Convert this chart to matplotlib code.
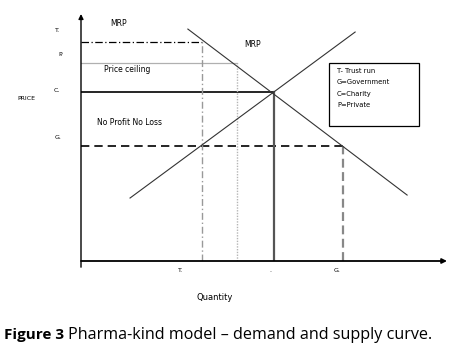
import numpy as np
import matplotlib
matplotlib.use("Agg")
from matplotlib import pyplot as plt

# price levels (0-100 scale) and the quantities that go with them
price_names = ["T.", "P.", "C.", "G."]
price_levels = [88.7, 80.2, 68.4, 46.6]
qty_names = ["T.", "", ".", "G."]
qty_levels = [33.0, 42.6, 52.7, 71.6]

# MRP (demand) and supply lines, end points
demand_q = [29.2, 89.1]
demand_p = [93.9, 26.7]
supply_q = [13.4, 74.9]
supply_p = [25.5, 92.7]

legend_lines = ["T- Trust run", "G=Government", "C=Charity", "P=Private"]

W, H = 459, 358
fig = plt.figure(figsize=(W / 100, H / 100), dpi=100)
fig.patch.set_facecolor("white")

# axes box: origin at pixel (81, 261), top at y=14, right end at x=447
x0, y0, x1, y1 = 81, 261, 447, 14
ax = fig.add_axes([x0 / W, (H - y0) / H, (x1 - x0) / W, (y0 - y1) / H])
ax.set_xlim(0, 100)
ax.set_ylim(0, 100)
ax.patch.set_alpha(0)
for s in ax.spines.values():
    s.set_visible(False)
ax.set_xticks([])
ax.set_yticks([])

# axes with arrows
ax.annotate("", xy=(0, 100), xytext=(0, -2.5), xycoords="data",
            arrowprops=dict(arrowstyle="-|>", color="black", lw=1.0,
                            mutation_scale=7, shrinkA=0, shrinkB=0),
            annotation_clip=False)
ax.annotate("", xy=(100, 0), xytext=(0, 0), xycoords="data",
            arrowprops=dict(arrowstyle="-|>", color="black", lw=1.3,
                            mutation_scale=7, shrinkA=0, shrinkB=0),
            annotation_clip=False)

# horizontal price lines
tq, pq, cq, gq = qty_levels
tp, pp, cp, gp = price_levels
ax.plot([0, tq], [tp, tp], color="black", lw=0.9, ls=(0, (6, 2, 1, 2)))
ax.plot([0, pq], [pp, pp], color="#b0b0b0", lw=0.9)
ax.plot([0, cq], [cp, cp], color="black", lw=1.2)
ax.plot([0, gq], [gp, gp], color="black", lw=1.2, ls=(0, (5, 3)))

# vertical drops to the quantity axis
ax.plot([tq, tq], [0, tp], color="#999999", lw=1.0, ls=(0, (5, 2, 1, 2)))
ax.plot([pq, pq], [0, pp], color="#b5b5b5", lw=1.0, ls=(0, (1, 1)))
ax.plot([cq, cq], [0, cp], color="#555555", lw=1.6)
ax.plot([gq, gq], [0, gp], color="#888888", lw=1.6, ls=(0, (4, 2)))

# MRP and supply
ax.plot(demand_q, demand_p, color="#333333", lw=0.8)
ax.plot(supply_q, supply_p, color="#333333", lw=0.8)

small = dict(fontsize=4.5, family="DejaVu Sans", color="black")
lab = dict(fontsize=5.5, family="DejaVu Sans", color="black")
leg = dict(fontsize=4.9, family="DejaVu Sans", color="black")

# price labels at left
ylab_px = [30, 55, 90, 137]
ylab_x = [55, 58, 54, 55]
for name, xp, yp in zip(price_names, ylab_x, ylab_px):
    fig.text(xp / W, 1 - yp / H, name, ha="left", va="center", **small)
fig.text(17 / W, 1 - 99 / H, "PRICE", ha="left", va="center", **small)

# quantity labels below
xlab_px = [181, 0, 270, 337]
for name, xp in zip(qty_names, xlab_px):
    if name:
        fig.text(xp / W, 1 - 270 / H, name, ha="center", va="center", **small)
fig.text(215 / W, 1 - 297 / H, "Quantity", ha="center", va="center",
         fontsize=6, family="DejaVu Sans")

# in-chart text
ax.text(8, 96, "MRP", ha="left", va="center", **lab)
ax.text(44.5, 87.5, "MRP", ha="left", va="center", **lab)
ax.text(6.3, 77.4, "Price ceiling", ha="left", va="center", **lab)
ax.text(4.4, 56, "No Profit No Loss", ha="left", va="center", **lab)

# legend box
bx0, bx1, by0, by1 = 329, 419, 63, 126
rect = plt.Rectangle((bx0 / W, 1 - by1 / H), (bx1 - bx0) / W, (by1 - by0) / H,
                     transform=fig.transFigure, fill=False, edgecolor="black", lw=0.9)
fig.add_artist(rect)
for i, t in enumerate(legend_lines):
    fig.text(337 / W, 1 - (71 + 11.3 * i) / H, t, ha="left", va="center", **leg)

# caption
fig.text(4 / W, 1 - 335 / H, "Figure 3", ha="left", va="center",
         fontsize=11, fontweight="bold", family="Open Sans")
fig.text(68 / W, 1 - 335 / H, "Pharma-kind model \u2013 demand and supply curve.",
         ha="left", va="center", fontsize=11.6, family="Open Sans")

fig.savefig("out.png", dpi=100)
